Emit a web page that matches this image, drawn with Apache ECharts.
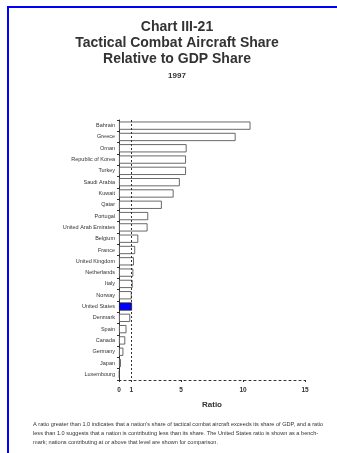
<!DOCTYPE html>
<html>
<head>
<meta charset="utf-8">
<script src="https://cdn.jsdelivr.net/npm/echarts@6/dist/echarts.min.js"></script>
<style>
  html, body { margin: 0; padding: 0; background: #fff; }
  #frame {
    position: absolute; left: 7px; top: 6px; width: 330px; height: 447px;
    border-top: 2px solid #0000ff; border-left: 2px solid #0000ff;
    box-sizing: border-box;
  }
  #chart { position: absolute; left: 0; top: 0; width: 337px; height: 453px; }
</style>
</head>
<body>
<div id="frame"></div>
<div id="chart"></div>
<script>
// countries, top to bottom as in the chart
const countries = [
  'Bahrain', 'Greece', 'Oman', 'Republic of Korea', 'Turkey', 'Saudi Arabia',
  'Kuwait', 'Qatar', 'Portugal', 'United Arab Emirates', 'Belgium', 'France',
  'United Kingdom', 'Netherlands', 'Italy', 'Norway', 'United States', 'Denmark',
  'Spain', 'Canada', 'Germany', 'Japan', 'Luxembourg'
]
// share of tactical combat aircraft / share of GDP
const ratios = [
  10.6, 9.4, 5.45, 5.4, 5.4, 4.9,
  4.4, 3.45, 2.35, 2.3, 1.55, 1.3,
  1.2, 1.15, 1.1, 1.02, 1.05, 0.9,
  0.6, 0.5, 0.35, 0.15, 0.05
]
const highlight = 'United States'
const xTicks = [0, 1, 5, 10, 15]

const chart = echarts.init(document.getElementById('chart'))

const titleFont = 'bold 14px Liberation Sans'

// category axis inverse so the first country sits on top
const option = {
  animation: false,
  textStyle: { fontFamily: 'Liberation Sans, Arial, sans-serif' },
  graphic: [
    { type: 'text', x: 177, y: 27, style: { text: 'Chart III-21', align: 'center', verticalAlign: 'middle', font: titleFont, fill: '#333' } },
    { type: 'text', x: 177, y: 43, style: { text: 'Tactical Combat Aircraft Share', align: 'center', verticalAlign: 'middle', font: titleFont, fill: '#333' } },
    { type: 'text', x: 177, y: 59, style: { text: 'Relative to GDP Share', align: 'center', verticalAlign: 'middle', font: titleFont, fill: '#333' } },
    { type: 'text', x: 177, y: 76, style: { text: '1997', align: 'center', verticalAlign: 'middle', font: 'bold 8px Liberation Sans', fill: '#333' } },
    {
      type: 'text', x: 33, y: 420,
      style: {
        text: 'A ratio greater than 1.0 indicates that a nation\'s share of tactical combat aircraft exceeds its share of GDP, and a ratio\n' +
              'less than 1.0 suggests that a nation is contributing less than its share. The United States ratio is shown as a bench-\n' +
              'mark; nations contributing at or above that level are shown for comparison.',
        font: '5.6px Liberation Sans', fill: '#333', lineHeight: 9
      }
    }
  ],
  grid: { left: 119, right: 32, top: 120, bottom: 73 },
  xAxis: {
    type: 'value',
    min: 0,
    max: 15,
    name: 'Ratio',
    nameLocation: 'middle',
    nameGap: 21,
    nameTextStyle: { fontSize: 8, fontWeight: 'bold', color: '#333' },
    axisLine: { show: true, lineStyle: { color: '#333', type: [2, 3], width: 1 } },
    axisTick: { show: true, length: 2, customValues: xTicks, lineStyle: { color: '#333' } },
    axisLabel: { customValues: xTicks, fontSize: 6.5, fontWeight: 'bold', color: '#333', margin: 7 },
    splitLine: { show: false }
  },
  yAxis: {
    type: 'category',
    inverse: true,
    data: countries,
    axisLine: { show: true, lineStyle: { color: '#333', width: 1 } },
    axisTick: { show: true, length: 2, lineStyle: { color: '#333' } },
    axisLabel: { fontSize: 5.5, color: '#333', margin: 4 }
  },
  series: [{
    type: 'bar',
    barCategoryGap: '28%',
    data: countries.map((c, i) => ({
      value: ratios[i],
      itemStyle: c === highlight
        ? { color: '#0000ff', borderColor: '#222', borderWidth: 0.8 }
        : { color: '#fff', borderColor: '#444', borderWidth: 0.8 }
    })),
    markLine: {
      silent: true,
      symbol: 'none',
      label: { show: false },
      lineStyle: { color: '#333', type: [2, 2], width: 1 },
      data: [{ xAxis: 1 }]
    }
  }]
}
chart.setOption(option)
</script>
</body>
</html>
